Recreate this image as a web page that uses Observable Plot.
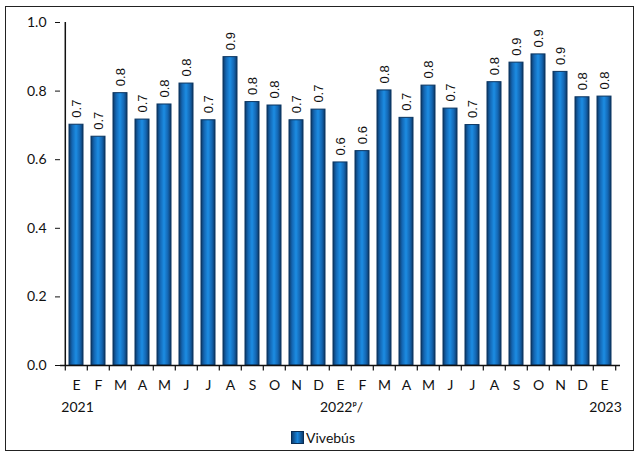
<!DOCTYPE html>
<html>
<head>
<meta charset="utf-8">
<script src="https://cdn.jsdelivr.net/npm/d3@7"></script>
<script src="https://cdn.jsdelivr.net/npm/@observablehq/plot@0.6"></script>
<style>
  html, body { margin: 0; padding: 0; background: #fff; }
  #wrap { position: relative; width: 640px; height: 458px; overflow: hidden; }
  #frame { position: absolute; left: 5px; top: 6px; width: 629px; height: 445px; border: 1px solid #222; box-sizing: border-box; }
  #chart { position: absolute; left: 0; top: 0; }
  #legend { position: absolute; left: 3px; width: 640px; top: 429px; text-align: center; font-family: Lato, "Open Sans", sans-serif; font-size: 14px; color: #111; }
  #legend .sw { display: inline-block; width: 11px; height: 11px; background: linear-gradient(90deg, #0d3f73, #1a86dc 50%, #0d3f73); border: 1px solid #0a2e55; vertical-align: -1px; margin-right: 2px; }
</style>
</head>
<body>
<div id="wrap">
  <div id="frame"></div>
  <div id="chart"></div>
  <div id="legend"><span class="sw"></span>Vivebús</div>
</div>
<script>
const keys = ["2021-01","2021-02","2021-03","2021-04","2021-05","2021-06","2021-07","2021-08","2021-09","2021-10","2021-11","2021-12",
              "2022-01","2022-02","2022-03","2022-04","2022-05","2022-06","2022-07","2022-08","2022-09","2022-10","2022-11","2022-12",
              "2023-01"];
const monthLabels = ["E","F","M","A","M","J","J","A","S","O","N","D","E","F","M","A","M","J","J","A","S","O","N","D","E"];
const values = [0.702,0.667,0.794,0.717,0.761,0.822,0.715,0.899,0.768,0.758,0.715,0.746,
                0.592,0.625,0.802,0.722,0.816,0.749,0.701,0.826,0.883,0.907,0.856,0.782,0.784];
const yTicks = [0, 0.2, 0.4, 0.6, 0.8, 1.0];
const yearKeys = ["2021-01", "2022-01", "2023-01"];
const yearTexts = ["2021", "2022ᵖ/", "2023"];

const data = keys.map((k, i) => ({key: k, month: monthLabels[i], value: values[i]}));
const labelOf = new Map(data.map(d => [d.key, d.month]));
const years = yearKeys.map((k, i) => ({key: k, text: yearTexts[i]}));

const W = 640, H = 420;
const mL = 60, mR = 20, mT = 22, mB = H - 365;
const step = (W - mL - mR) / keys.length;
const pad = 0.35;

const chart = Plot.plot({
  width: W, height: H,
  marginLeft: mL, marginRight: mR, marginTop: mT, marginBottom: mB,
  style: {fontFamily: "Lato, 'Open Sans', sans-serif", fontSize: "14px", color: "#111", background: "transparent"},
  x: {domain: keys, paddingInner: pad, paddingOuter: pad / 2, axis: null},
  y: {domain: [0, 1], ticks: yTicks, tickFormat: ".1f", tickSize: 5, tickPadding: 9, label: null},
  marks: [
    Plot.barY(data, {x: "key", y: "value", fill: "url(#barGrad)", stroke: "#0b3560", strokeWidth: 1}),
    Plot.text(data, {x: "key", y: "value", text: d => d3.format(".1f")(d.value), rotate: -90,
      textAnchor: "start", lineAnchor: "middle", dy: -7,
      fontFamily: "'Liberation Sans', Arial, sans-serif", fontSize: 13, fill: "#111"}),
    Plot.ruleX([0], {x: () => keys[0], y1: 0, y2: 1, dx: -step / 2, stroke: "#111", strokeWidth: 1.5}),
    Plot.ruleY([0], {stroke: "#111", strokeWidth: 1.5}),
    Plot.ruleX(keys, {x: d => d, y1: 0, y2: -0.016, dx: -step / 2, stroke: "#111", strokeWidth: 1.2}),
    Plot.ruleX([keys[keys.length - 1]], {x: d => d, y1: 0, y2: -0.016, dx: step / 2, stroke: "#111", strokeWidth: 1.2}),
    Plot.text(data, {x: "key", y: 0, text: d => labelOf.get(d.key), dy: 20, fontSize: 14, fill: "#111"}),
    Plot.text(years, {x: "key", y: 0, text: "text", textAnchor: "middle", dx: 1, dy: 42, fontSize: 14, fill: "#111"})
  ]
});

const svg = d3.select(chart);
const defs = svg.insert("defs", ":first-child");
const g = defs.append("linearGradient").attr("id", "barGrad").attr("x1", "0").attr("x2", "1").attr("y1", "0").attr("y2", "0");
g.append("stop").attr("offset", "0%").attr("stop-color", "#0c3865");
g.append("stop").attr("offset", "22%").attr("stop-color", "#1466b2");
g.append("stop").attr("offset", "50%").attr("stop-color", "#1c8de3");
g.append("stop").attr("offset", "78%").attr("stop-color", "#1466b2");
g.append("stop").attr("offset", "100%").attr("stop-color", "#0c3865");

document.getElementById("chart").appendChild(chart);
</script>
</body>
</html>
